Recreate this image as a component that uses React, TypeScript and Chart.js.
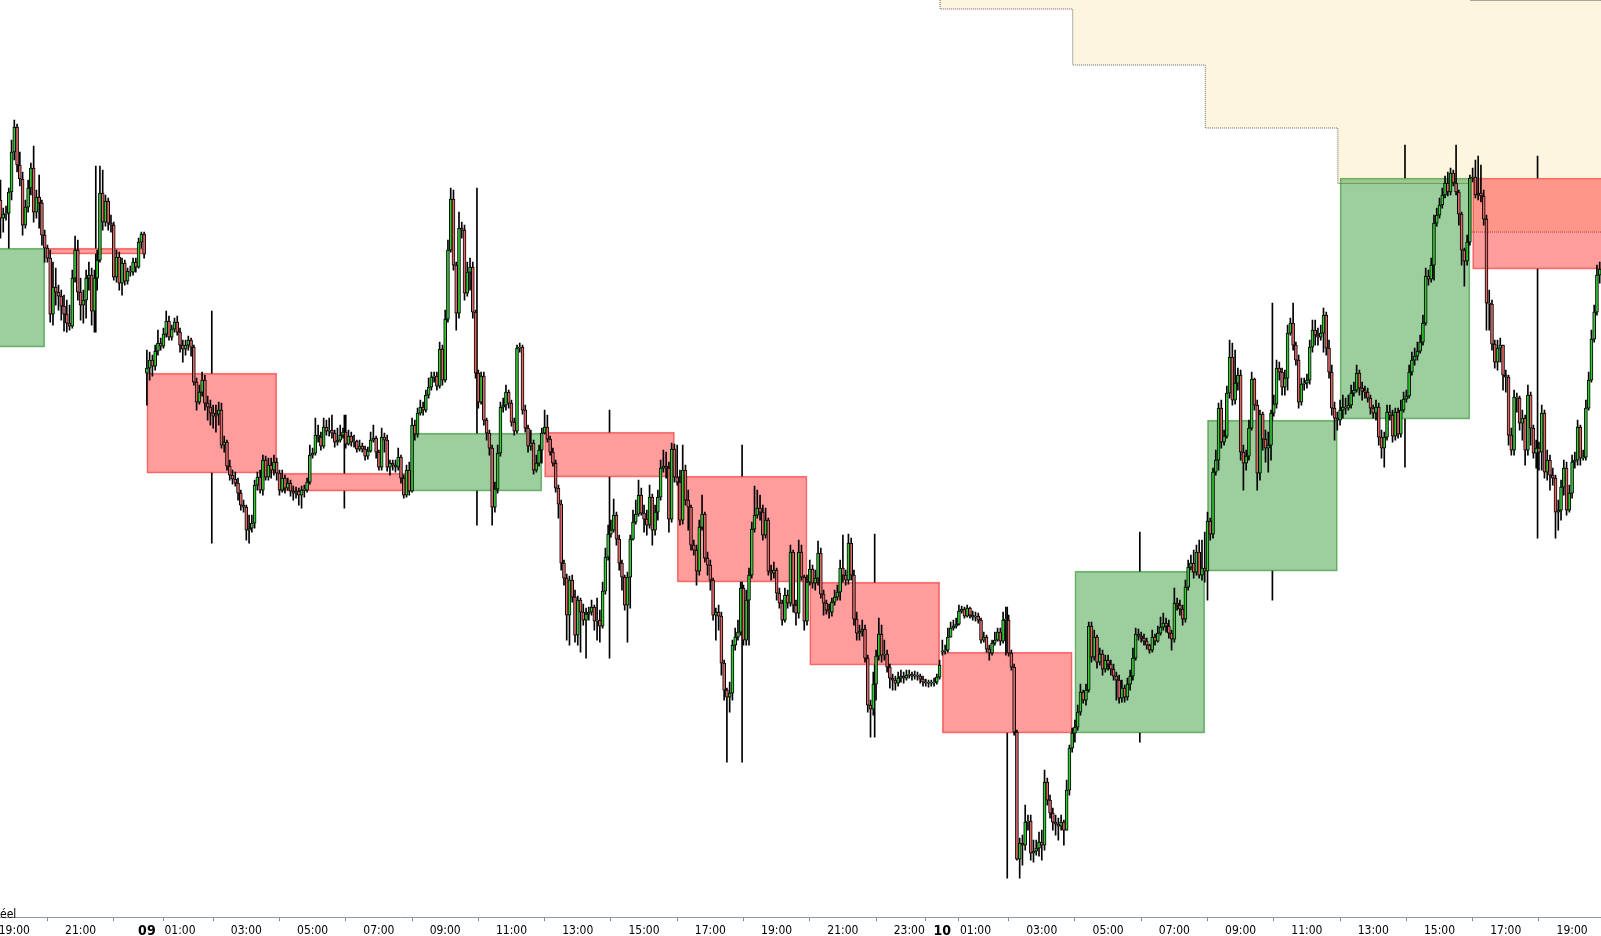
import React, { useEffect, useRef } from 'react';
import { Chart, registerables } from 'chart.js';

Chart.register(...registerables);

// ---- 5-minute bars: bar index 0 = 19:00 on day 08 ----
const FIRST_BAR = -5;
const sessionOpens: Record<number, number> = { [-5]: 800, 48: 627, 336: 348 };

const closes = [
  782,786,787,808,848,873,835,821,775,793,812,832,788,803,797,765,752,742,686,713,708,704,694,686,677,674,722,750,708,695,700,722,725,689,722,740,807,778,799,777,775,723,743,717,737,719,729,728,738,733,758,766,746,
  632,640,634,649,657,654,666,679,663,671,678,668,655,651,655,660,653,618,598,608,620,597,593,587,584,586,590,555,558,534,525,521,517,507,495,493,470,472,477,515,523,510,540,523,535,530,538,527,
  510,522,512,517,509,507,509,505,510,510,518,545,547,565,563,554,573,569,570,567,558,560,565,568,556,564,558,559,551,554,551,544,549,560,562,548,533,563,560,533,537,535,533,543,522,505,530,509,
  575,566,587,593,590,605,613,623,624,614,651,620,681,750,801,735,687,772,770,707,728,733,688,627,598,624,580,567,552,493,511,547,593,595,608,597,578,569,652,653,590,572,554,557,530,537,550,567,
  573,561,548,537,512,496,437,422,385,420,403,365,400,388,380,386,388,393,379,380,374,409,443,466,470,485,461,437,423,395,423,461,478,486,505,487,481,475,503,470,488,503,532,534,532,481,551,523,
  518,480,530,500,493,455,450,429,473,486,442,435,420,385,388,384,337,310,303,307,355,363,368,412,360,400,425,471,485,492,488,465,480,429,427,430,407,397,380,405,397,448,395,387,448,423,379,418,
  431,417,422,447,406,397,390,388,398,403,408,432,425,420,457,425,381,367,369,371,342,295,291,316,344,366,345,346,333,322,320,317,322,324,322,325,326,324,325,324,321,318,317,317,317,318,323,335,
  349,350,363,372,374,376,389,391,384,392,385,383,384,380,360,363,351,347,357,360,368,359,380,380,347,333,268,141,157,155,178,179,147,149,152,158,155,218,200,187,178,176,174,178,170,210,252,267,
  273,288,308,300,310,374,343,363,338,346,331,340,336,331,324,320,302,312,303,316,324,342,366,364,362,359,355,350,363,359,367,373,377,374,367,361,397,395,391,381,413,433,437,428,448,425,432,429,
  479,466,528,540,592,558,564,607,643,600,617,625,548,537,544,572,621,595,527,586,561,552,555,587,596,632,628,613,622,667,677,655,640,598,616,617,620,653,670,665,663,667,685,652,628,592,582,580,
  590,593,592,595,607,610,627,612,609,608,602,592,587,593,563,552,563,588,585,564,588,566,590,601,604,628,640,644,649,658,677,724,721,735,777,785,795,805,817,808,827,817,808,786,750,739,758,822,
  823,805,807,804,781,697,696,656,638,652,655,625,623,565,550,603,602,577,582,550,605,572,547,552,548,587,528,540,525,522,488,490,513,532,490,507,538,540,573,542,543,592,620,661,688,725,731,
];

const highs = [
  820,792,794,812,860,880,876,848,828,800,820,837,854,810,825,800,770,755,750,738,732,715,710,705,700,695,730,764,760,722,710,730,738,732,730,750,834,830,805,802,785,778,750,748,742,740,732,734,742,742,762,768,768,
  650,648,645,655,670,662,672,689,684,675,682,684,672,660,660,664,662,655,622,615,628,625,604,600,595,595,598,597,564,560,540,530,528,522,510,500,495,485,485,520,528,530,545,544,542,542,545,542,
  530,530,525,522,520,514,513,512,514,515,522,555,552,582,575,568,582,580,582,585,570,572,575,572,585,570,568,565,560,560,557,554,553,568,575,564,550,572,567,565,540,540,540,552,545,525,535,538,
  582,580,592,600,598,610,622,628,628,628,658,655,690,760,812,810,738,788,778,775,738,742,738,690,630,628,628,582,570,555,518,555,598,602,615,610,600,582,655,657,655,595,575,570,560,545,555,572,
  590,585,564,552,540,515,500,440,426,424,425,410,404,402,396,392,393,400,395,402,390,418,452,475,480,501,488,465,440,425,428,465,490,500,520,512,495,490,515,506,495,510,540,550,548,538,557,556,
  555,530,555,535,510,495,460,455,480,505,488,448,440,422,392,395,388,340,312,318,360,372,380,418,415,410,432,478,514,510,505,495,492,482,435,438,432,412,400,412,410,455,450,400,460,455,425,425,
  440,435,430,459,452,410,400,396,402,410,415,440,465,430,466,462,430,388,375,380,375,345,300,328,350,382,375,360,350,336,326,324,328,330,328,330,330,328,329,328,326,324,321,320,320,322,326,340,
  360,355,372,378,380,382,395,394,393,395,393,389,388,387,382,368,365,355,360,368,372,372,388,393,385,350,336,270,162,165,195,185,185,160,160,168,170,230,222,205,192,185,182,185,180,220,255,272,
  280,295,316,310,316,378,378,370,365,352,350,345,345,340,336,328,325,320,315,322,330,352,372,371,368,366,362,356,370,366,374,383,387,382,380,370,412,402,400,395,420,440,445,450,455,460,460,468,
  488,482,532,550,597,600,570,614,660,657,650,632,630,555,550,580,628,622,600,590,588,570,568,590,605,640,638,632,630,675,682,697,658,645,622,622,626,660,680,680,672,675,692,688,660,635,598,588,
  600,605,602,605,615,618,635,630,618,614,612,605,595,600,597,570,568,595,595,590,592,592,600,608,610,635,648,652,658,665,685,732,730,742,785,792,802,812,824,828,832,830,855,810,788,752,765,825,
  832,840,844,835,810,785,710,700,660,660,662,655,630,625,572,610,607,604,590,585,615,608,575,560,558,595,590,550,545,532,525,500,520,540,538,515,545,548,580,575,550,600,628,670,695,735,738,
];

const lows = [
  762,768,780,752,800,840,828,814,765,772,788,805,778,782,772,755,738,738,678,675,695,690,680,669,668,670,672,718,700,680,677,682,710,675,668,710,738,770,774,770,768,720,718,710,705,715,716,724,725,728,732,752,742,
  595,620,624,630,645,650,652,663,660,660,668,665,648,638,645,650,644,615,590,596,604,590,580,575,572,568,575,552,548,530,520,516,514,500,490,488,460,457,468,472,510,507,505,520,520,522,525,520,
  505,508,507,510,504,500,502,495,492,503,508,516,542,545,558,550,552,565,564,562,553,555,558,562,552,555,554,553,548,549,548,540,541,548,558,542,530,530,548,529,525,530,528,530,517,502,503,505,
  508,560,563,585,585,588,602,610,618,610,612,615,618,678,748,730,670,682,762,700,704,710,682,622,592,596,575,560,545,475,488,507,544,588,590,592,574,565,567,648,586,568,548,550,526,528,534,537,
  566,558,545,534,508,482,430,415,360,355,398,358,355,348,375,342,380,385,370,360,358,372,406,440,463,468,455,430,410,390,358,392,460,476,484,485,468,465,472,455,465,480,500,528,522,468,478,518,
  515,475,476,495,470,450,445,415,425,470,438,425,410,380,360,370,325,300,238,288,300,350,360,365,355,355,355,422,468,482,480,460,462,425,420,422,400,392,375,378,392,394,388,375,382,420,370,375,
  415,412,410,415,402,385,386,382,384,395,400,400,418,415,416,420,375,360,360,364,338,288,263,285,300,340,338,340,328,312,310,310,314,318,317,320,322,320,321,320,317,314,314,313,314,314,316,321,
  345,346,348,363,370,372,375,387,382,383,382,380,379,377,357,358,348,340,345,355,359,355,357,345,344,330,265,140,122,135,150,170,140,138,145,144,140,150,195,182,170,165,160,170,155,170,205,248,
  258,270,285,297,295,308,338,340,332,335,325,328,330,325,320,300,297,298,298,300,310,320,340,360,358,355,351,347,348,355,358,365,370,368,362,350,358,390,385,375,378,410,430,422,425,422,420,418,
  400,460,462,525,530,552,555,562,602,595,596,610,540,510,530,540,570,590,510,520,550,538,528,540,584,592,620,605,605,610,665,650,635,592,595,610,612,616,648,655,655,660,648,645,622,585,560,570,
  575,582,586,590,592,604,608,605,600,602,598,586,582,580,555,542,533,560,580,558,560,562,563,588,598,602,625,635,640,647,655,675,715,718,720,774,782,792,802,804,805,814,805,775,735,714,735,755,
  818,802,800,798,775,670,670,650,632,630,638,610,608,555,545,545,588,570,560,535,545,555,542,532,530,530,522,520,510,515,462,470,480,505,485,488,502,532,535,535,540,540,590,618,658,685,717,
];

// ---- 4-hour candles drawn as boxes ----
const boxStarts = [-36, 12, 48, 96, 144, 192, 240, 288, 336, 384, 432, 480, 528];
const boxBars   = [48, 36, 48, 48, 48, 48, 48, 48, 48, 48, 48, 48, 48];
const boxOpens  = [653, 752, 627, 527, 509, 568, 524, 418, 348, 267, 429, 581, 822];
const boxCloses = [752, 746, 527, 509, 567, 523, 418, 335, 267, 429, 580, 822, 731];
const boxHighs  = [880, 834, 689, 585, 812, 590, 555, 466, 393, 468, 697, 855, 844];
const boxLows   = [640, 668, 457, 492, 475, 342, 238, 263, 122, 258, 400, 533, 462];

// ---- stepped zone (day 10) ----
const zoneX     = [335.2, 335.2, 383.2, 431.2, 479.2, 527.2, 575.2, 590];
const zoneLower = [1010, 991, 935, 872, 816.5, 768, 750, 750];
const zoneTopX  = [527.2, 575.2, 575.2];
const zoneUpper = [999.5, 999.5, 992];

// ---- time axis ----
const tickBars = [0, 24, 48, 60, 84, 108, 132, 156, 180, 204, 228, 252, 276, 300, 324, 336, 348, 372, 396, 420, 444, 468, 492, 516, 540, 564];
const tickLabels = ['19:00', '21:00', '09', '01:00', '03:00', '05:00', '07:00', '09:00', '11:00', '13:00', '15:00', '17:00', '19:00', '21:00', '23:00', '10', '01:00', '03:00', '05:00', '07:00', '09:00', '11:00', '13:00', '15:00', '17:00', '19:00'];
const dayTickBars = [48, 336];

const X_MIN = -5.18;
const X_MAX = 574.47;
const Y_MIN = 83;
const Y_MAX = 1000;
const W = 1601;
const H = 936;
const CANVAS_H = 942;

const UP = '#33cc33';
const DOWN = '#e06666';
const FONT = "'Liberation Sans Narrow', 'Arial Narrow', 'DejaVu Sans Condensed', 'Liberation Sans', sans-serif";

export default function App() {
  const ref = useRef<HTMLCanvasElement | null>(null);

  useEffect(() => {
    if (!ref.current) return;
    const opens = closes.map((c, k) => {
      const i = FIRST_BAR + k;
      return sessionOpens[i] !== undefined ? sessionOpens[i] : closes[k - 1];
    });
    const bodies = closes.map((c, k) => ({ x: FIRST_BAR + k, y: [opens[k], c] }));
    const bodyColors = closes.map((c, k) => (c >= opens[k] ? UP : DOWN));
    const wicks = closes.map((c, k) => ({ x: FIRST_BAR + k, y: [lows[k], highs[k]] }));

    const pxPerBar = W / (X_MAX - X_MIN);
    const groups = Array.from(new Set(boxBars));
    const boxDatasets: any[] = groups.map((n) => {
      const idx = boxBars.map((b, j) => (b === n ? j : -1)).filter((j) => j >= 0);
      return {
        type: 'bar',
        data: idx.map((j) => ({ x: boxStarts[j] + (boxBars[j] - 1) / 2, y: [boxOpens[j], boxCloses[j]] })),
        backgroundColor: idx.map((j) => (boxCloses[j] >= boxOpens[j] ? 'rgba(0,128,0,0.385)' : 'rgba(255,0,0,0.385)')),
        borderColor: idx.map((j) => (boxCloses[j] >= boxOpens[j] ? 'rgba(40,140,40,0.6)' : 'rgba(240,40,40,0.6)')),
        borderWidth: 1,
        borderSkipped: false,
        barThickness: n * pxPerBar - 2.6,
        grouped: false,
        order: 3,
      };
    });
    const boxCenters = boxStarts.map((s, j) => s + (boxBars[j] - 1) / 2);
    const boxUpper = boxCenters.map((x, j) => ({ x, y: [Math.max(boxOpens[j], boxCloses[j]), boxHighs[j]] }));
    const boxLower = boxCenters.map((x, j) => ({ x, y: [boxLows[j], Math.min(boxOpens[j], boxCloses[j])] }));

    const chart = new Chart(ref.current, {
      type: 'bar',
      data: {
        datasets: [
          {
            type: 'bar',
            data: bodies as any,
            backgroundColor: bodyColors,
            borderColor: '#000',
            borderWidth: 1,
            borderSkipped: false,
            barThickness: 3,
            minBarLength: 1,
            grouped: false,
            order: 0,
          },
          {
            type: 'bar',
            data: wicks as any,
            backgroundColor: '#000',
            borderWidth: 0,
            barThickness: 1,
            grouped: false,
            order: 1,
          },
          ...boxDatasets,
          {
            type: 'bar',
            data: boxUpper as any,
            backgroundColor: '#000',
            borderWidth: 0,
            barThickness: 1,
            grouped: false,
            order: 2,
          },
          {
            type: 'bar',
            data: boxLower as any,
            backgroundColor: '#000',
            borderWidth: 0,
            barThickness: 1,
            grouped: false,
            order: 2,
          },
          {
            type: 'line',
            data: zoneTopX.map((x, j) => ({ x, y: zoneUpper[j] })) as any,
            borderColor: '#555',
            borderWidth: 1,
            borderDash: [1, 1],
            pointRadius: 0,
            stepped: true,
            fill: false,
            order: 4,
          },
          {
            type: 'line',
            data: zoneX.map((x, j) => ({ x, y: zoneLower[j] })) as any,
            borderColor: '#666',
            borderWidth: 1,
            borderDash: [1, 1],
            backgroundColor: '#fdf5de',
            pointRadius: 0,
            stepped: true,
            fill: 'end',
            order: 5,
          },
        ] as any,
      },
      options: {
        animation: false,
        responsive: false,
        maintainAspectRatio: false,
        layout: { padding: 0 },
        plugins: { legend: { display: false }, tooltip: { enabled: false } },
        scales: {
          x: {
            type: 'linear',
            min: X_MIN,
            max: X_MAX,
            offset: false,
            bounds: 'data',
            grid: { display: true, drawOnChartArea: false, drawTicks: true, tickLength: 4, color: '#8a8a8a' },
            border: { display: true, color: '#8a9aa6', width: 1 },
            afterBuildTicks: (axis: any) => {
              axis.ticks = tickBars.map((v) => ({ value: v }));
            },
            afterFit: (axis: any) => {
              axis.paddingLeft = 0;
              axis.paddingRight = 0;
            },
            ticks: {
              autoSkip: false,
              maxRotation: 0,
              minRotation: 0,
              padding: 2,
              color: '#000',
              callback: (_v: any, i: number) => tickLabels[i],
              font: (ctx: any) =>
                ctx.tick && dayTickBars.includes(ctx.tick.value)
                  ? { family: FONT, size: 14, weight: 'bold' }
                  : { family: FONT, size: 12 },
            },
          } as any,
          y: {
            type: 'linear',
            display: false,
            min: Y_MIN,
            max: Y_MAX,
          },
        },
      },
    });
    return () => chart.destroy();
  }, []);

  return (
    <div style={{ position: 'fixed', left: 0, top: 0, width: W, height: H, overflow: 'hidden', background: '#fff' }}>
      <canvas ref={ref} width={W} height={CANVAS_H} style={{ display: 'block', width: W, height: CANVAS_H }} />
      <div style={{ position: 'absolute', left: 0, top: 907, fontFamily: FONT, fontSize: 12, lineHeight: '14px', color: '#000' }}>éel</div>
    </div>
  );
}
